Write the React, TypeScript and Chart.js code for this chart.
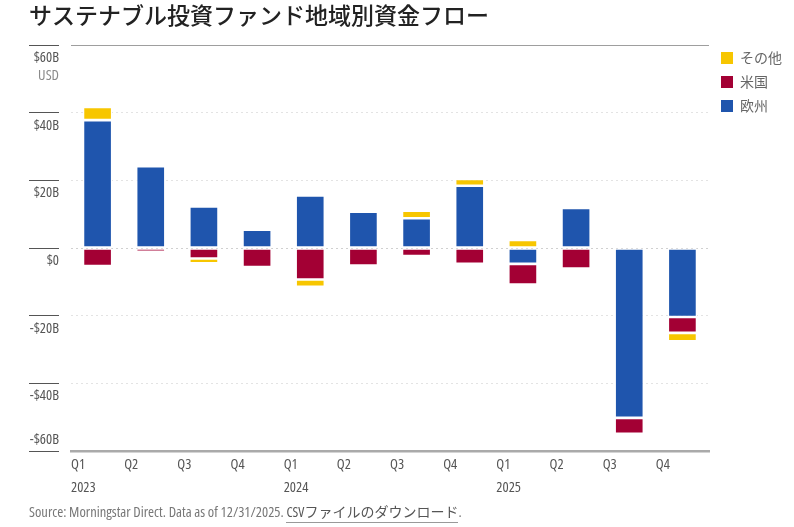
import React, { useEffect, useRef } from "react";
import { Chart, registerables } from "chart.js";

Chart.register(...registerables);

const titleText = "サステナブル投資ファンド地域別資金フロー";
const quarters = ["Q1", "Q2", "Q3", "Q4", "Q1", "Q2", "Q3", "Q4", "Q1", "Q2", "Q3", "Q4"];
const years = ["2023", "", "", "", "2024", "", "", "", "2025", "", "", ""];
const europe = [37.8, 24.2, 12.3, 5.4, 15.5, 10.75, 8.8, 18.4, -4.7, 11.85, -50.2, -20.4];
const usa = [-5.3, -1.15, -3.1, -5.6, -9.3, -5.2, -2.4, -4.7, -6.1, -6.1, -4.7, -4.7];
const other = [3.9, null, -1.4, null, -2.2, null, 2.25, 2.0, 2.4, null, null, -2.5];
const yTicks: Record<string, string> = {
  "60": "$60B",
  "40": "$40B",
  "20": "$20B",
  "0": "$0",
  "-20": "-$20B",
  "-40": "-$40B",
  "-60": "-$60B",
};
const unitLabel = "USD";
const sourceText = "Source: Morningstar Direct. Data as of 12/31/2025. ";
const linkText = "CSVファイルのダウンロード";

const NARROW = '"Open Sans", "Noto Sans CJK JP", sans-serif';
const CJK = '"Noto Sans CJK JP", sans-serif';
const LABEL_SIZE = 14.5;

export default function App() {
  const ref = useRef<HTMLCanvasElement | null>(null);
  useEffect(() => {
    const unitPlugin = {
      id: "unitAndLegendNudge",
      afterLayout(chart: any) {
        chart.legend.left += 2;
        chart.legend.top -= 4;
      },
      afterDraw(chart: any) {
        const y = chart.scales.y;
        const c = chart.ctx;
        c.save();
        c.font = `condensed ${LABEL_SIZE}px ${NARROW}`;
        c.fillStyle = "#8a8a8a";
        c.textAlign = "right";
        c.textBaseline = "middle";
        c.fillText(unitLabel, 59, y.getPixelForValue(60) + 31);
        c.restore();
      },
    };
    const chart = new Chart(ref.current as HTMLCanvasElement, {
      type: "bar",
      data: {
        labels: quarters.map((q, i) => (years[i] ? [q, years[i]] : q)),
        datasets: [
          { label: "欧州", data: europe, backgroundColor: "#1F55AD" },
          { label: "米国", data: usa, backgroundColor: "#A30034" },
          { label: "その他", data: other, backgroundColor: "#F7C600" },
        ].map((d) => ({
          ...d,
          borderColor: "#ffffff",
          borderWidth: 1.3,
          borderSkipped: false,
          categoryPercentage: 1,
          barPercentage: 0.55,
          stack: "s",
        })) as any,
      },
      plugins: [unitPlugin],
      options: {
        responsive: false,
        animation: false,
        devicePixelRatio: 1,
        layout: { padding: { left: 29, right: 4, top: 0, bottom: 0 } },
        plugins: {
          tooltip: { enabled: false },
          title: {
            display: true,
            text: titleText,
            align: "start",
            color: "#222222",
            font: { family: CJK, size: 23, weight: "500", lineHeight: 1.2 },
            padding: { top: 1, bottom: 16.4 },
          },
          legend: {
            position: "right",
            align: "start",
            fullSize: false,
            labels: {
              boxWidth: 12,
              boxHeight: 12,
              padding: 10,
              color: "#666666",
              font: { family: CJK, size: 14 },
              generateLabels(c: any) {
                return Chart.defaults.plugins.legend.labels
                  .generateLabels(c)
                  .map((l: any) => ({ ...l, lineWidth: 0, strokeStyle: "transparent" }))
                  .reverse();
              },
            },
          },
        },
        scales: {
          x: {
            stacked: true,
            afterFit(s: any) {
              s.height = 76;
            },
            grid: { display: false, drawTicks: false },
            border: { display: true, color: "#aaaaaa", width: 2.5 },
            ticks: {
              autoSkip: false,
              maxRotation: 0,
              align: "start",
              labelOffset: -26.58,
              padding: 2,
              color: "#555555",
              font: { family: NARROW, size: LABEL_SIZE, weight: "condensed", lineHeight: 23 / LABEL_SIZE },
            },
          },
          y: {
            stacked: true,
            min: -60,
            max: 60,
            afterFit(s: any) {
              s.width = 42;
            },
            border: {
              display: false,
              dash: (ctx: any) => (ctx.tick && ctx.tick.value === 60 ? [] : [2, 3]),
            },
            grid: {
              lineWidth: 1,
              color: (ctx: any) => {
                const v = ctx.tick.value;
                if (v === 60) return "#9e9e9e";
                if (v === -60) return "rgba(0,0,0,0)";
                if (v === 0) return "#d0d0d0";
                return "#e3e3e3";
              },
              tickLength: 42,
              tickWidth: 1,
              tickColor: "#555555",
              tickBorderDash: [30, 100],
            },
            ticks: {
              stepSize: 20,
              autoSkip: false,
              padding: -30,
              color: "#555555",
              font: (ctx: any) => ({
                family: NARROW,
                size: LABEL_SIZE,
                weight: "condensed",
                lineHeight: (ctx.tick && ctx.tick.value === -60 ? 22 : 26) / LABEL_SIZE,
              }),
              callback(v: any) {
                const t = yTicks[String(v)];
                return v === -60 ? [t, ""] : ["", t];
              },
            },
          },
        },
      } as any,
    });
    return () => chart.destroy();
  }, []);
  return (
    <div style={{ position: "absolute", left: 0, top: 0, width: 794, height: 527, background: "#fff", overflow: "hidden" }}>
      <canvas ref={ref} width={794} height={527} style={{ display: "block" }} />
      <div
        style={{
          position: "absolute",
          left: 29,
          top: 503,
          fontFamily: NARROW,
          fontStretch: "condensed",
          fontSize: LABEL_SIZE,
          lineHeight: "18px",
          color: "#777777",
          whiteSpace: "nowrap",
        }}
      >
        {sourceText}
        <span style={{ color: "#555555", fontSize: 14, borderBottom: "1px solid #999999", paddingBottom: 1 }}>{linkText}</span>.
      </div>
    </div>
  );
}
